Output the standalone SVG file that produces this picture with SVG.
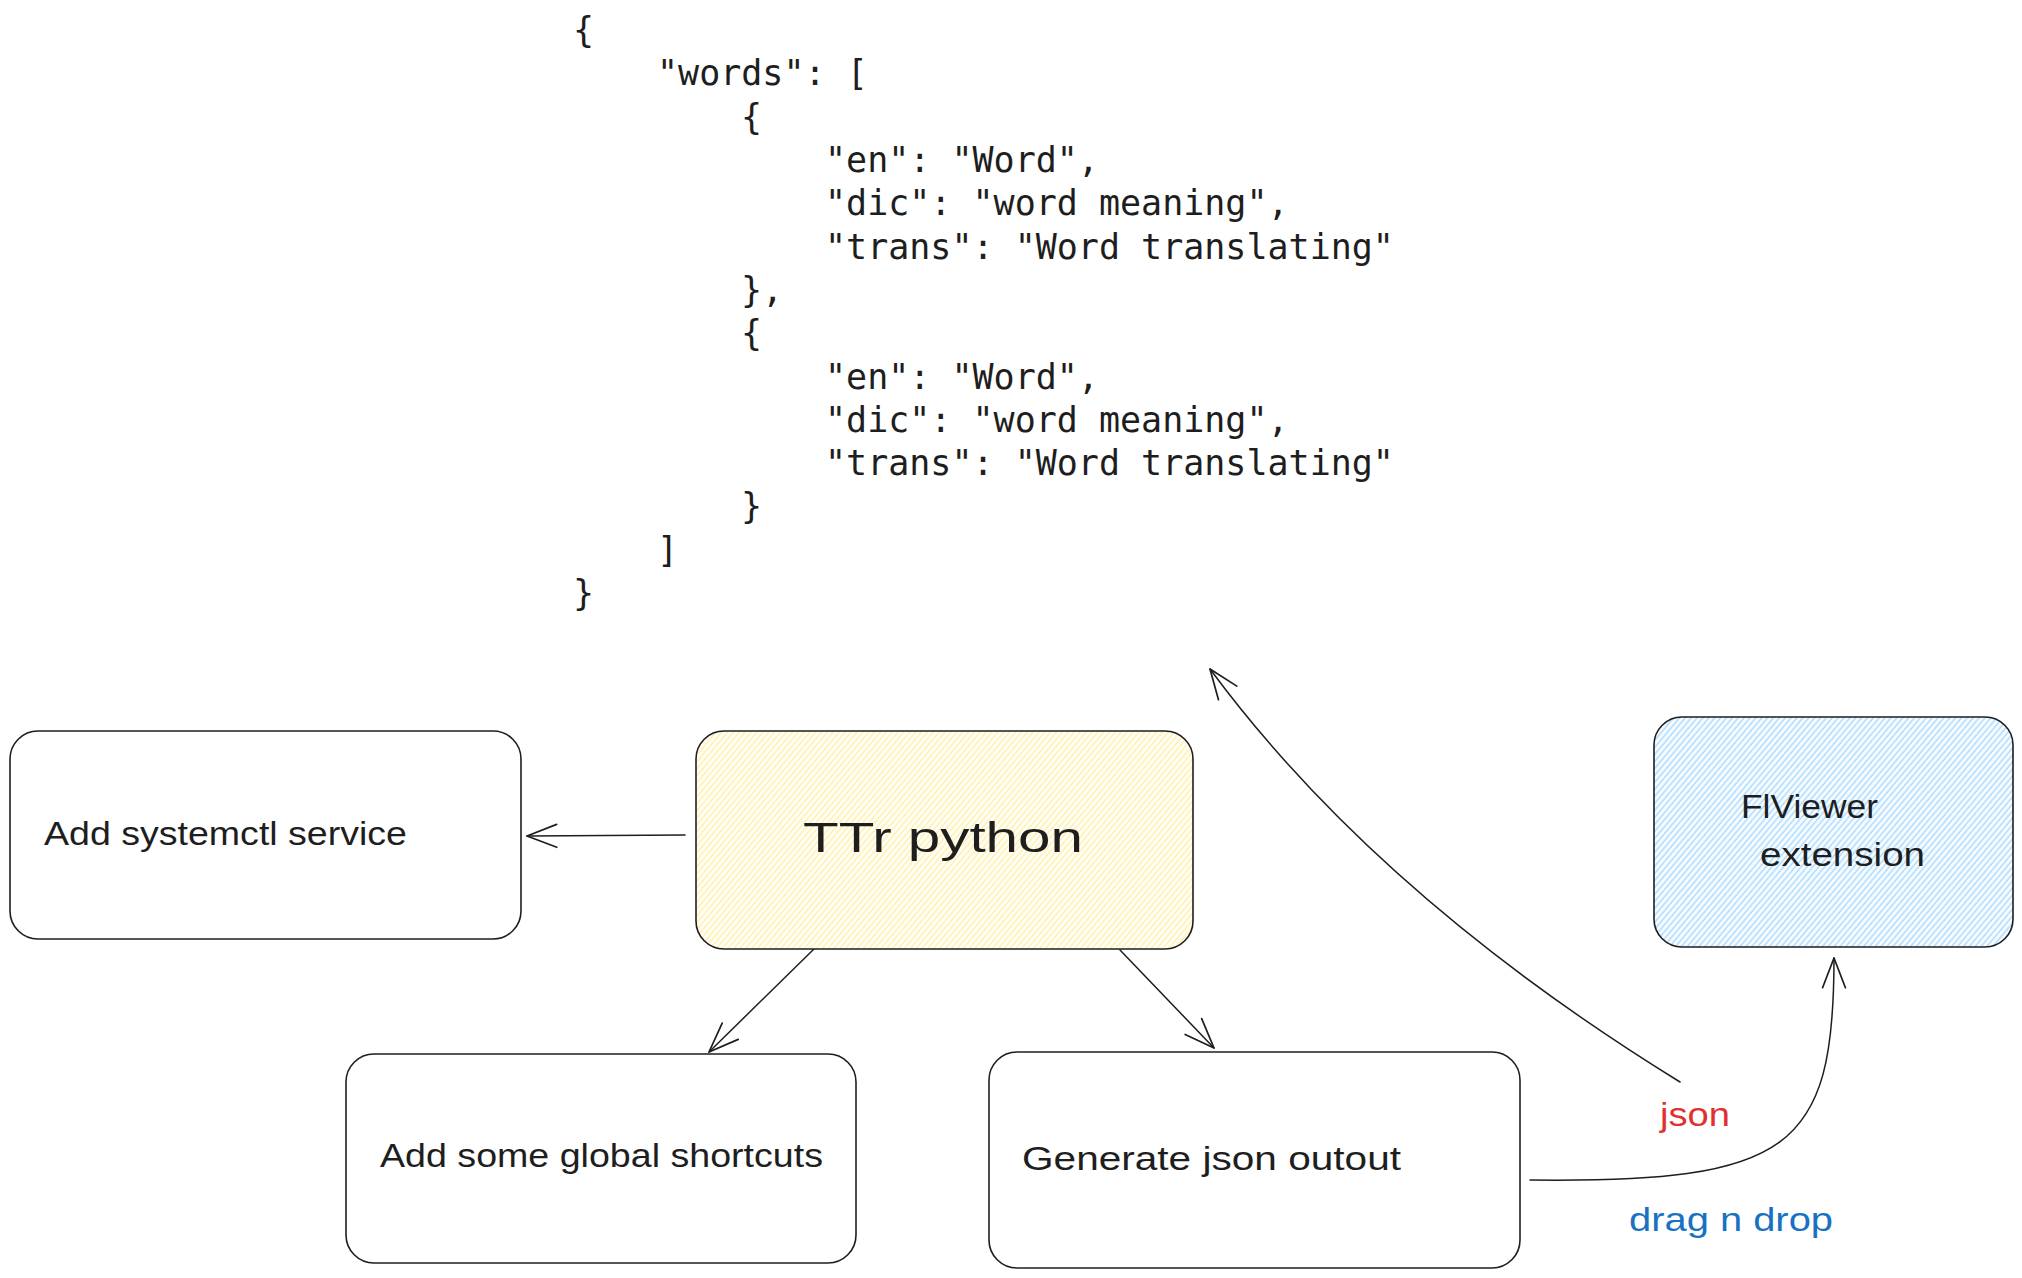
<svg xmlns="http://www.w3.org/2000/svg" width="2022" height="1278" viewBox="0 0 2022 1278">
<defs>
<style>
.bg{fill:#ffffff}
.box{stroke:#1e1e1e;stroke-width:1.6;fill:#ffffff}
.box.yellow{fill:url(#hatchY)}
.box.blue{fill:url(#hatchB)}
.lbl{font-family:"Liberation Sans",Arial,sans-serif;font-size:33px;fill:#1e1e1e}
.code{font-family:"DejaVu Sans Mono","Liberation Mono",monospace;font-size:35px;fill:#1e1e1e}
.conn{fill:none;stroke:#1e1e1e;stroke-width:1.5;stroke-linecap:round}
</style>
<pattern id="hatchY" patternUnits="userSpaceOnUse" width="4.5" height="10" patternTransform="rotate(40)">
<rect width="4.5" height="10" fill="#fffef6"/>
<line x1="2" y1="0" x2="2" y2="10" stroke="#ffee9f" stroke-width="1.2"/>
</pattern>
<pattern id="hatchB" patternUnits="userSpaceOnUse" width="4.5" height="10" patternTransform="rotate(40)">
<rect width="4.5" height="10" fill="#f5fbff"/>
<line x1="2" y1="0" x2="2" y2="10" stroke="#a5d8ff" stroke-width="1.3"/>
</pattern>
<marker id="arr" markerUnits="userSpaceOnUse" markerWidth="40" markerHeight="40" refX="0" refY="0" viewBox="-30 -15 35 30" orient="auto" overflow="visible">
<path d="M-26,-10 L0,0 L-26,10" fill="none" stroke="#1e1e1e" stroke-width="1.5" stroke-linecap="round" stroke-linejoin="round"/>
</marker>
</defs>
<rect class="bg" x="0" y="0" width="2022" height="1278"/>

<g id="json-code">
<text class="code" x="573" y="42">{</text>
<text class="code" x="657" y="85">"words": [</text>
<text class="code" x="741" y="129">{</text>
<text class="code" x="825" y="172">"en": "Word",</text>
<text class="code" x="825" y="215">"dic": "word meaning",</text>
<text class="code" x="825" y="259">"trans": "Word translating"</text>
<text class="code" x="741" y="302">},</text>
<text class="code" x="741" y="345">{</text>
<text class="code" x="825" y="389">"en": "Word",</text>
<text class="code" x="825" y="432">"dic": "word meaning",</text>
<text class="code" x="825" y="475">"trans": "Word translating"</text>
<text class="code" x="741" y="518">}</text>
<text class="code" x="657" y="562">]</text>
<text class="code" x="573" y="605">}</text>
</g>

<g id="connectors">
<line class="conn" x1="685" y1="835" x2="527" y2="836" marker-end="url(#arr)"/>
<line class="conn" x1="814" y1="949" x2="709" y2="1052" marker-end="url(#arr)"/>
<line class="conn" x1="1120" y1="950" x2="1214" y2="1048" marker-end="url(#arr)"/>
<path class="conn" d="M1680,1082 Q1377,895 1210,669" marker-end="url(#arr)"/>
<path class="conn" d="M1530,1180 C1790,1183 1834,1150 1834,958" marker-end="url(#arr)"/>
<text x="1660" y="1126" font-family="'Liberation Sans',Arial,sans-serif" font-size="33" fill="#e03131" textLength="70" lengthAdjust="spacingAndGlyphs">json</text>
<text x="1629" y="1231" font-family="'Liberation Sans',Arial,sans-serif" font-size="33" fill="#1971c2" textLength="204" lengthAdjust="spacingAndGlyphs">drag n drop</text>
</g>

<g id="node-systemctl">
<rect class="box" x="10" y="731" width="511" height="208" rx="28"/>
<text class="lbl" x="44" y="845" textLength="363" lengthAdjust="spacingAndGlyphs">Add systemctl service</text>
</g>

<g id="node-ttr">
<rect class="box yellow" x="696" y="731" width="497" height="218" rx="28"/>
<text class="lbl" x="803" y="852" style="font-size:42px" textLength="280" lengthAdjust="spacingAndGlyphs">TTr python</text>
</g>

<g id="node-flviewer">
<rect class="box blue" x="1654" y="717" width="359" height="230" rx="28"/>
<text class="lbl" x="1741" y="818" textLength="137" lengthAdjust="spacingAndGlyphs">FlViewer</text>
<text class="lbl" x="1760" y="866" textLength="165" lengthAdjust="spacingAndGlyphs">extension</text>
</g>

<g id="node-shortcuts">
<rect class="box" x="346" y="1054" width="510" height="209" rx="28"/>
<text class="lbl" x="380" y="1167" style="font-size:34px" textLength="443" lengthAdjust="spacingAndGlyphs">Add some global shortcuts</text>
</g>

<g id="node-generate">
<rect class="box" x="989" y="1052" width="531" height="216" rx="28"/>
<text class="lbl" x="1022" y="1170" style="font-size:34px" textLength="379" lengthAdjust="spacingAndGlyphs">Generate json outout</text>
</g>
</svg>
